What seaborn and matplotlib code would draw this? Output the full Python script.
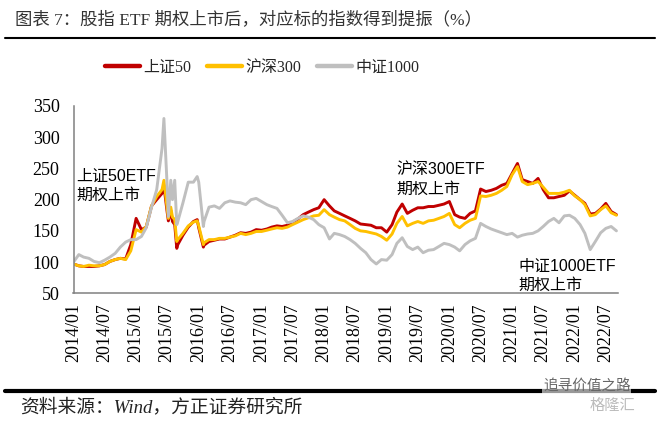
import matplotlib
matplotlib.use("Agg")
import matplotlib.pyplot as plt
import seaborn as sns
import pandas as pd
import numpy as np
from matplotlib.lines import Line2D

sns.set_theme(style="white")
plt.rcParams["font.family"] = ["Liberation Serif", "Noto Sans CJK SC", "DejaVu Sans"]

# ---------------- data (monthly, starting 2014/01) ----------------
start_month = "2014-01-01"
series_names = ["上证50", "沪深300", "中证1000"]
sz50 = [97, 94, 93, 93, 93, 94, 96, 101, 104, 106, 105, 128,
        170, 152, 156, 190, 200, 210, 180, 165, 128, 143, 156, 165,
        155, 127, 133, 135, 137, 137, 140, 143, 147, 146, 148, 152,
        151, 153, 156, 158, 157, 159, 164, 169, 176, 180, 184, 187,
        200, 190, 182, 178, 174, 170, 166, 161, 160, 159, 155, 155,
        148, 160, 180, 193, 178, 183, 187, 187, 189, 189, 191, 193,
        197, 176, 172, 170, 178, 182, 217, 213, 215, 218, 223, 226,
        242, 258, 232, 229, 226, 234, 216, 203, 203, 205, 207, 214,
        207, 200, 194, 177, 178, 185, 194, 181, 176]
hs300 = [97, 94, 93, 95, 94, 94, 96, 101, 104, 106, 104, 118,
         152, 148, 157, 190, 205, 216, 186, 172, 136, 146, 158, 164,
         158, 131, 136, 136, 138, 138, 140, 142, 146, 144, 146, 149,
         149, 151, 153, 155, 154, 156, 160, 164, 168, 171, 174, 175,
         184, 176, 172, 168, 166, 160, 154, 150, 149, 147, 145, 141,
         135, 145, 162, 173, 158, 162, 165, 162, 166, 167, 170, 173,
         178, 160, 155, 162, 167, 170, 206, 205, 207, 210, 215, 221,
         240, 253, 229, 224, 226, 229, 220, 210, 210, 210, 212, 215,
         206, 200, 192, 174, 176, 184, 190, 179, 175]
zz1000 = [100, 112, 108, 106, 101, 99, 103, 108, 114, 124, 132, 136,
          136, 141, 155, 188, 216, 282, 222, 200, 165, 195, 228, 228,
          228, 165, 188, 190, 186, 195, 198, 196, 195, 192, 200, 202,
          197, 192, 189, 186, 175, 163, 165, 170, 174, 172, 168, 160,
          155, 137, 146, 144, 141, 136, 130, 122, 115, 104, 97, 104,
          103, 112, 130, 139, 125, 120, 124, 115, 119, 120, 125, 130,
          128, 124, 118, 128, 134, 138, 162, 157, 153, 150, 147, 144,
          146, 140, 143, 145, 146, 150, 157, 165, 170, 163, 174, 175,
          170, 160, 146, 120, 133, 147, 154, 157, 150]
# extra readings at turning points of the volatile 2015-2016 period
extra_dates = ["2015-06-12", "2015-07-08", "2015-07-22", "2015-08-14",
               "2015-08-26", "2015-12-23", "2016-01-28"]
sz50_extra = [222, 166, 183, 160, 122, 168, 124]
hs300_extra = [231, 170, 188, 168, 133, 166, 128]
zz1000_extra = [330, 173, 231, 231, 160, 237, 157]

colors = ["#C00000", "#FFC000", "#BFBFBF"]
y_ticks = [50, 100, 150, 200, 250, 300, 350]
x_tick_dates = pd.date_range("2014-01-01", "2022-07-01", freq="6MS")
x_tick_labels = [d.strftime("%Y/%m") for d in x_tick_dates]

dates = list(pd.date_range(start_month, periods=len(sz50), freq="MS")) + \
    list(pd.to_datetime(extra_dates))
frames = []
for name, vals, extra in zip(series_names, [sz50, hs300, zz1000],
                             [sz50_extra, hs300_extra, zz1000_extra]):
    frames.append(pd.DataFrame({"date": dates, "value": vals + extra, "series": name}))
df = pd.concat(frames, ignore_index=True).sort_values(["series", "date"])

# ---------------- figure ----------------
W, H = 660, 421
fig = plt.figure(figsize=(W / 100, H / 100), dpi=100)
ax = fig.add_axes([73.5 / W, 1 - 293.3 / H, (618 - 73.5) / W, (293.3 - 106) / H])

sns.lineplot(data=df, x="date", y="value", hue="series", hue_order=series_names,
             palette=dict(zip(series_names, colors)), linewidth=2.1, ax=ax,
             legend=False, estimator=None, sort=True)

ax.set_xlim(pd.Timestamp("2014-01-01"), pd.Timestamp("2022-09-10"))
ax.set_ylim(50, 350)
ax.set_yticks(y_ticks)
ax.set_xticks(x_tick_dates)
ax.set_xticklabels(x_tick_labels, rotation=90)
ax.set_xlabel("")
ax.set_ylabel("")
ax.grid(False)
for s in ["top", "right"]:
    ax.spines[s].set_visible(False)
for s in ["left", "bottom"]:
    ax.spines[s].set_color("#808080")
    ax.spines[s].set_linewidth(1.1)
ax.tick_params(axis="both", direction="out", length=4, width=1.0, color="#808080",
               labelsize=13, labelcolor="black")
ax.tick_params(axis="x", pad=3)
ax.tick_params(axis="y", pad=6)

# annotations
ann_font = ["Liberation Sans", "Noto Sans CJK SC"]
ax.text(pd.Timestamp("2014-01-15"), 222, "上证50ETF\n期权上市", fontsize=11.5,
        family=ann_font, ha="left", va="center", linespacing=1.4, color="black")
ax.text(pd.Timestamp("2019-03-01"), 233, "沪深300ETF\n期权上市", fontsize=11.5,
        family=ann_font, ha="left", va="center", linespacing=1.4, color="black")
ax.text(pd.Timestamp("2021-02-07"), 78, "中证1000ETF\n期权上市", fontsize=11.5,
        family=ann_font, ha="left", va="center", linespacing=1.4, color="black",
        clip_on=False)

# legend
handles = [Line2D([0], [0], color=c, lw=3.2) for c in colors]
fig.legend(handles, series_names, loc="center", bbox_to_anchor=(262 / W, 1 - 68 / H),
           ncol=3, frameon=False, fontsize=11.5, handlelength=2.2, handletextpad=0.2,
           columnspacing=1.0)

# title and rules
fig.text(15 / W, 1 - 20 / H, "图表 7：股指 ETF 期权上市后，对应标的指数得到提振（%）",
         fontsize=12.5, ha="left", va="center", color="#333333")
fig.add_artist(Line2D([5 / W, 655 / W], [1 - 38 / H] * 2, color="black", lw=1.5))
fig.add_artist(Line2D([5 / W, 655 / W], [1 - 390.5 / H] * 2, color="black", lw=3.0))
fig.text(20 / W, 1 - 407 / H, "资料来源：Wind，方正证券研究所", fontsize=13.5,
         ha="left", va="center", color="#222222", style="italic")

# watermark overlay
fig.text(543 / W, 1 - 386 / H, "追寻价值之路", fontsize=10.5, ha="left", va="center",
         color="#666666", family=["Noto Sans CJK SC"],
         bbox=dict(facecolor="white", edgecolor="none", pad=0.5, alpha=0.6))
fig.text(590 / W, 1 - 405 / H, "格隆汇", fontsize=11, ha="left", va="center",
         color="#BBBBBB", family=["Noto Sans CJK SC"])

fig.savefig("out.png", dpi=100)
